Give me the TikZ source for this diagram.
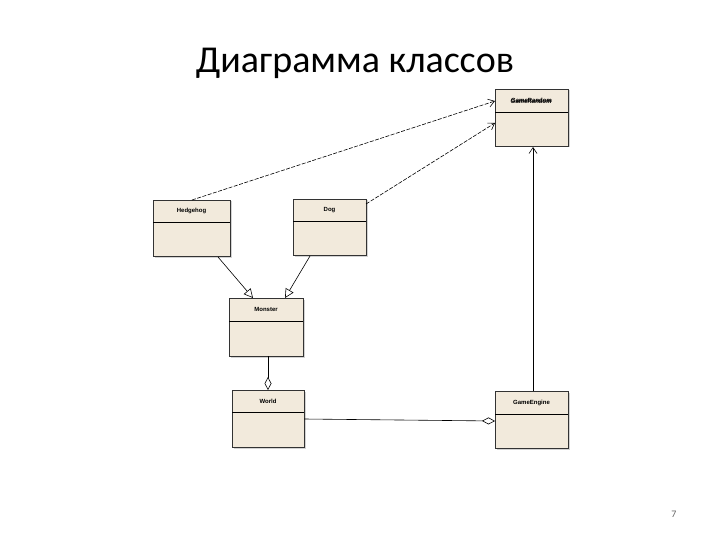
\documentclass[tikz,border=0pt]{standalone}
\usepackage{fontspec}
\setmainfont{Carlito}
\newfontfamily\lab{Liberation Sans}
\usetikzlibrary{arrows.meta,shadows}
\definecolor{cls}{RGB}{242,234,220}
\begin{document}
\begin{tikzpicture}[x=1pt,y=-1pt,
  cbox/.style={draw=black!80,fill=cls,line width=0.7pt,drop shadow={opacity=0.35,shadow xshift=1.5pt,shadow yshift=-1.5pt}},
  clabel/.style={font=\lab\bfseries\fontsize{6}{7}\selectfont},
  dep/.style={dashed,dash pattern=on 4pt off 1.5pt,line width=0.6pt,-{Straight Barb[length=6pt,width=8pt]}},
  assoc/.style={line width=0.6pt,-{Straight Barb[length=6pt,width=8pt]}},
  gen/.style={line width=0.6pt,-{Triangle[open,length=9pt,width=9pt,fill=white]}},
  agg/.style={line width=0.6pt,-{Diamond[open,length=13pt,width=7pt,fill=white]}}]
\useasboundingbox (0,0) rectangle (720,540);
\node[font=\fontsize{38}{44}\selectfont] (title) at (355,63) {Диаграмма классов};
\node[font=\fontsize{10}{12}\selectfont,text=black!60] (pg) at (674,514) {7};
% classes
\newcommand{\umlclass}[6]{%
  \draw[cbox] (#2,#3) rectangle (#4,#5);
  \draw[line width=0.7pt] (#2,#6) -- (#4,#6);
  \node[clabel] (#1) at ({(#2+#4)/2},{(#3+#6)/2}) {#1};
  \coordinate (#1-nw) at (#2,#3);}
\umlclass{GameRandom}{495}{89}{568}{146}{112}
\node[clabel] at (531,101) {Game\hspace{0pt}Random};
\umlclass{Hedgehog}{153}{200}{230}{256}{222}
\umlclass{Dog}{293}{199}{366}{255}{221}
\umlclass{Monster}{229}{298}{303}{356}{321}
\umlclass{World}{232}{390}{304}{447}{412}
\umlclass{GameEngine}{495}{391}{568}{448}{414}
\coordinate (h1) at (192,200); \coordinate (gr1) at (495,101);
\coordinate (d1) at (366,204); \coordinate (gr2) at (495,123);
\coordinate (ge1) at (533,391); \coordinate (gr3) at (533,147);
\coordinate (h2) at (218,257); \coordinate (m1) at (253,298);
\coordinate (d2) at (310,256); \coordinate (m2) at (285,298);
\coordinate (m3) at (268,356); \coordinate (w1) at (268,390);
\coordinate (w2) at (304,419); \coordinate (ge2) at (495,421);
\draw[dep] (h1) -- (gr1);
\draw[dep] (d1) -- (gr2);
\draw[assoc] (ge1) -- (gr3);
\draw[gen] (h2) -- (m1);
\draw[gen] (d2) -- (m2);
\draw[agg] (m3) -- (w1);
\draw[agg] (w2) -- (ge2);
\end{tikzpicture}
\end{document}
